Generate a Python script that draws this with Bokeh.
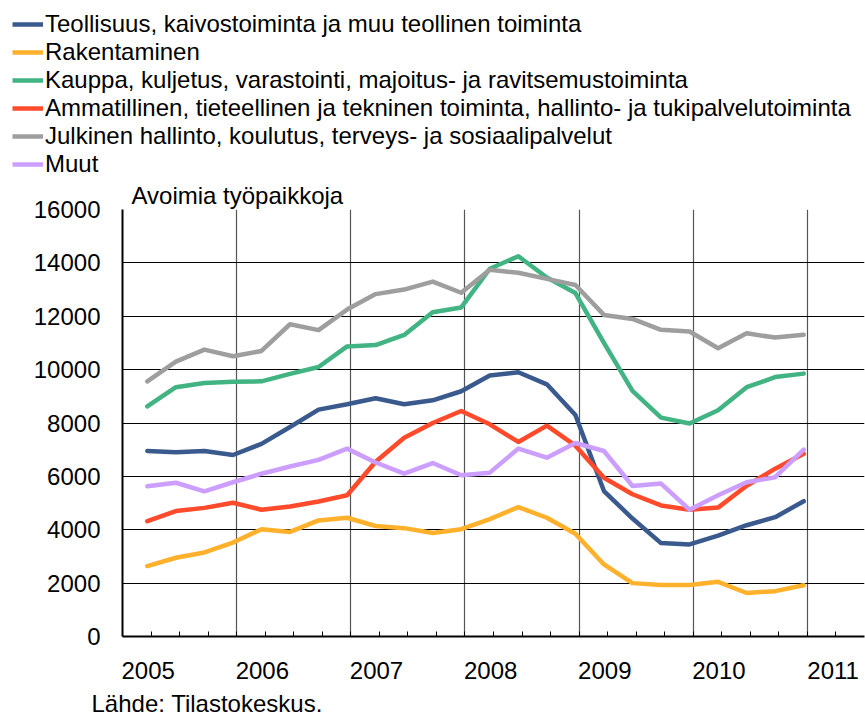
from bokeh.plotting import figure
from bokeh.models import (Range1d, FixedTicker, Legend, LegendItem, Label, Title)
from bokeh.layouts import column
from bokeh.embed import file_html
from bokeh.resources import INLINE

# ---- data (quarterly, 2005Q1 .. 2010Q4) ----
quarters = [f"{y}Q{q}" for y in range(2005, 2011) for q in range(1, 5)]
years = ["2005", "2006", "2007", "2008", "2009", "2010", "2011"]

teollisuus = [6950, 6900, 6950, 6800, 7220, 7850, 8500, 8700,
              8930, 8700, 8850, 9190, 9780, 9900, 9450, 8300,
              5450, 4420, 3500, 3450, 3780, 4170, 4470, 5070]
rakentaminen = [2640, 2950, 3150, 3520, 4020, 3920, 4350, 4450,
                4140, 4060, 3880, 4020, 4400, 4850, 4450, 3850,
                2700, 2000, 1930, 1930, 2050, 1630, 1700, 1920]
kauppa = [8620, 9340, 9500, 9550, 9560, 9840, 10100, 10870,
          10920, 11300, 12150, 12330, 13780, 14250, 13450, 12870,
          11000, 9200, 8200, 7980, 8480, 9340, 9720, 9850]
ammatillinen = [4320, 4700, 4820, 5010, 4750, 4870, 5060, 5290,
                6550, 7450, 8000, 8450, 7950, 7290, 7900, 7150,
                5950, 5330, 4910, 4750, 4830, 5650, 6290, 6850]
julkinen = [9560, 10300, 10750, 10500, 10700, 11700, 11480, 12250,
            12830, 13000, 13300, 12880, 13740, 13630, 13400, 13170,
            12050, 11900, 11490, 11430, 10800, 11360, 11200, 11310]
muut = [5630, 5760, 5440, 5780, 6100, 6370, 6620, 7040,
        6520, 6100, 6500, 6040, 6140, 7040, 6700, 7250,
        6950, 5640, 5730, 4750, 5290, 5780, 5970, 7000]

series_names = [
    "Teollisuus, kaivostoiminta ja muu teollinen toiminta",
    "Rakentaminen",
    "Kauppa, kuljetus, varastointi, majoitus- ja ravitsemustoiminta",
    "Ammatillinen, tieteellinen ja tekninen toiminta, hallinto- ja tukipalvelutoiminta",
    "Julkinen hallinto, koulutus, terveys- ja sosiaalipalvelut",
    "Muut",
]
series_values = [teollisuus, rakentaminen, kauppa, ammatillinen, julkinen, muut]
series_colors = ["#3A5A8E", "#FFB12B", "#42B383", "#FF4B2B", "#9E9E9E", "#CC9EFF"]

y_ticks = [0, 2000, 4000, 6000, 8000, 10000, 12000, 14000, 16000]

FONT = "Liberation Sans"
OFFSET = 0.87  # position of a quarter's point inside its quarter slot
LW = 4.5

x = [i + OFFSET for i in range(len(quarters))]


def blank(h):
    f = figure(width=865, height=h, output_backend="svg", toolbar_location=None,
               x_range=Range1d(0, 865), y_range=Range1d(0, h),
               x_axis_location=None, y_axis_location=None,
               min_border=0)
    f.grid.visible = False
    f.outline_line_color = None
    f.frame_align = False
    return f


# ---- legend strip ----
top = blank(178)
items = []
for name, col in zip(series_names, series_colors):
    # swatch-only renderer, kept outside the visible range
    r = top.line([-100, -90], [-100, -90], line_color=col, line_width=LW)
    items.append(LegendItem(label=name, renderers=[r]))
legend = Legend(items=items, location=(12, 0), orientation="vertical",
                label_text_font=FONT, label_text_font_size="24px",
                label_text_color="black", glyph_width=31, glyph_height=28,
                label_height=28, label_standoff=2, spacing=0, padding=0,
                margin=0, border_line_color=None, background_fill_alpha=0)
top.add_layout(legend, "center")

# ---- main chart ----
p = figure(width=865, height=511, output_backend="svg", toolbar_location=None,
           x_range=Range1d(0, 26), y_range=Range1d(0, 16000),
           min_border_left=122, min_border_right=1, min_border_top=31,
           min_border_bottom=53)
p.frame_align = False
p.outline_line_color = None
p.title = Title(text="Avoimia työpaikkoja", align="left", offset=9,
                text_font=FONT, text_font_size="24px", text_font_style="normal",
                text_color="black", standoff=2)

for vals, col in zip(series_values, series_colors):
    p.line(x, vals, line_color=col, line_width=LW, line_join="round",
           line_cap="round")

# y axis
p.yaxis.ticker = FixedTicker(ticks=y_ticks)
p.yaxis.major_tick_in = 0
p.yaxis.major_tick_out = 0
p.yaxis.minor_tick_in = 0
p.yaxis.minor_tick_out = 0
p.yaxis.axis_line_color = "black"
p.yaxis.axis_line_width = 2
p.yaxis.major_label_text_font = FONT
p.yaxis.major_label_text_font_size = "24px"
p.yaxis.major_label_text_color = "black"
p.yaxis.major_label_standoff = 22

# x axis: labels at first quarter of each year, minor ticks per quarter
label_pos = [4 * k + 0.9 for k in range(len(years))]
p.xaxis.ticker = FixedTicker(ticks=label_pos, minor_ticks=list(range(1, 26)))
p.xaxis.major_label_overrides = {pos: yr for pos, yr in zip(label_pos, years)}
p.xaxis.major_tick_in = 0
p.xaxis.major_tick_out = 0
p.xaxis.minor_tick_in = 5
p.xaxis.minor_tick_out = 0
p.xaxis.minor_tick_line_color = "black"
p.xaxis.minor_tick_line_width = 1
p.xaxis.axis_line_color = "black"
p.xaxis.axis_line_width = 2
p.xaxis.major_label_text_font = FONT
p.xaxis.major_label_text_font_size = "24px"
p.xaxis.major_label_text_color = "black"
p.xaxis.major_label_standoff = 25

# grids
p.xgrid.ticker = FixedTicker(ticks=[4, 8, 12, 16, 20, 24])
p.xgrid.grid_line_color = "#555555"
p.xgrid.grid_line_width = 1.2
p.ygrid.ticker = FixedTicker(ticks=y_ticks)
p.ygrid.grid_line_color = "black"
p.ygrid.grid_line_width = 1.2

# ---- source strip ----
bottom = blank(27)
bottom.add_layout(Label(x=91, y=13.5, text="Lähde: Tilastokeskus.",
                        text_font=FONT, text_font_size="24px",
                        text_color="black", text_baseline="middle",
                        text_align="left"))

layout = column(top, p, bottom, spacing=0)
open("out.html", "w").write(file_html(layout, INLINE))
